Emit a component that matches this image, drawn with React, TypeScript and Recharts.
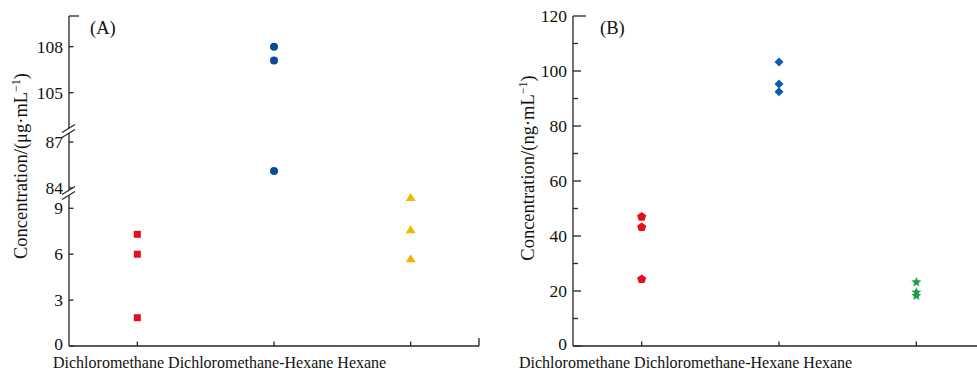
import React from "react";
import { ScatterChart, Scatter, XAxis, YAxis } from "recharts";

// categories shared by both panels
const categories = ["Dichloromethane", "Dichloromethane-Hexane", "Hexane"];

// panel A, μg/mL
const dcmA = [7.3, 6.0, 1.85];
const mixA = [108.0, 107.1, 85.1];
const hexA = [9.7, 7.6, 5.7];

// panel B, ng/mL
const dcmB = [47.0, 43.2, 24.3];
const mixB = [103.3, 95.3, 92.5];
const hexB = [23.2, 19.5, 18.3];

// tick labels
const ticksAUpper = [105, 108];
const ticksAMiddle = [84, 87];
const ticksALower = [0, 3, 6, 9];
const ticksB = [0, 10, 20, 30, 40, 50, 60, 70, 80, 90, 100, 110, 120];
const xTicks = [0, 1, 2];

const FONT = "'Liberation Serif', 'Times New Roman', serif";
const AXIS = "#262626";
const RED = "#e60f1c";
const BLUE_A = "#0c4b93";
const BLUE_B = "#0a5cb0";
const YELLOW = "#f6b400";
const GREEN = "#1a9d45";
const GAP = 6;

type Pt = { x: number; y: number };
const toPoints = (i: number, vals: number[]): Pt[] => vals.map((v) => ({ x: i, y: v }));

function Marker({ cx, cy, kind, color }: any) {
  if (cx == null || cy == null) return null;
  if (kind === "square") return <rect x={cx - 3.5} y={cy - 3.5} width={7} height={7} fill={color} />;
  if (kind === "circle") return <circle cx={cx} cy={cy} r={4} fill={color} />;
  if (kind === "triangle")
    return <polygon points={`${cx},${cy - 4.5} ${cx + 5},${cy + 3.5} ${cx - 5},${cy + 3.5}`} fill={color} />;
  if (kind === "diamond")
    return <polygon points={`${cx},${cy - 4.5} ${cx + 4.5},${cy} ${cx},${cy + 4.5} ${cx - 4.5},${cy}`} fill={color} />;
  const n = 5;
  const pts: string[] = [];
  if (kind === "pentagon") {
    for (let k = 0; k < n; k++) {
      const a = -Math.PI / 2 + (k * 2 * Math.PI) / n;
      pts.push(`${cx + 4.8 * Math.cos(a)},${cy + 4.8 * Math.sin(a)}`);
    }
  } else {
    for (let k = 0; k < n * 2; k++) {
      const a = -Math.PI / 2 + (k * Math.PI) / n;
      const r = k % 2 === 0 ? 5.2 : 2.3;
      pts.push(`${cx + r * Math.cos(a)},${cy + r * Math.sin(a)}`);
    }
  }
  return <polygon points={pts.join(" ")} fill={color} />;
}

function YTick(props: any) {
  const { x, y, payload, lenFor, labelFor } = props;
  const v = payload.value;
  const ax = x + GAP;
  const len = lenFor(v);
  const label = labelFor(v);
  return (
    <g>
      <line x1={ax} x2={ax + len} y1={y} y2={y} stroke={AXIS} strokeWidth={1.3} />
      {label ? (
        <text x={x} y={y} dy={v === 0 ? "0.2em" : "0.35em"} textAnchor="end" fontFamily={FONT} fontSize={17.5} fill="#111">
          {v}
        </text>
      ) : null}
    </g>
  );
}

function XTick(props: any) {
  const { x, y, payload, lenFor } = props;
  const len = lenFor(payload.value);
  return <line x1={x} x2={x} y1={y} y2={y - len} stroke={AXIS} strokeWidth={1.3} />;
}

type Series = { vals: number[]; color: string; kind: string };

const seriesA: Series[] = [
  { vals: dcmA, color: RED, kind: "square" },
  { vals: mixA, color: BLUE_A, kind: "circle" },
  { vals: hexA, color: YELLOW, kind: "triangle" },
];
const seriesB: Series[] = [
  { vals: dcmB, color: RED, kind: "pentagon" },
  { vals: mixB, color: BLUE_B, kind: "diamond" },
  { vals: hexB, color: GREEN, kind: "star" },
];

function Panel(props: {
  left: number;
  plotTop: number;
  plotH: number;
  width: number;
  yWidth: number;
  right: number;
  domain: [number, number];
  ticks: number[];
  series: Series[];
  showX: boolean;
  xEnd: boolean;
  yLen: (v: number) => number;
  yLabel: (v: number) => boolean;
}) {
  const { left, plotTop, plotH, width, yWidth, right, domain, ticks, series, showX, xEnd, yLen, yLabel } = props;
  const h = plotH + 20;
  return (
    <div style={{ position: "absolute", left, top: plotTop - 10, width, height: h }}>
      <ScatterChart width={width} height={h} margin={{ top: 10, right, bottom: 0, left: 0 }} style={{ overflow: "visible" }}>
        <XAxis
          type="number"
          dataKey="x"
          domain={[-0.5, 2.5]}
          allowDataOverflow
          ticks={showX ? (xEnd ? [...xTicks, 2.5] : xTicks) : []}
          interval={0}
          height={10}
          axisLine={showX ? { stroke: AXIS, strokeWidth: 1.3 } : false}
          tickLine={false}
          tickSize={0}
          tickMargin={0}
          tick={showX ? (p: any) => <XTick {...p} lenFor={(v: number) => (v === 2.5 ? 8 : 4.5)} /> : false}
        />
        <YAxis
          type="number"
          dataKey="y"
          domain={domain}
          allowDataOverflow
          ticks={ticks}
          interval={0}
          width={yWidth}
          axisLine={{ stroke: AXIS, strokeWidth: 1.3 }}
          tickLine={false}
          tickSize={0}
          tickMargin={GAP}
          tick={(p: any) => <YTick {...p} lenFor={yLen} labelFor={yLabel} />}
        />
        {series.map((s, i) => (
          <Scatter
            key={i}
            data={toPoints(i, s.vals).filter((d) => d.y >= domain[0] && d.y <= domain[1])}
            isAnimationActive={false}
            shape={(p: any) => <Marker cx={p.cx} cy={p.cy} kind={s.kind} color={s.color} />}
          />
        ))}
      </ScatterChart>
    </div>
  );
}

function BreakMark({ x, y }: { x: number; y: number }) {
  return (
    <g>
      <polygon points={`${x - 7},${y + 1.5} ${x + 6},${y - 6.5} ${x + 6},${y - 1.5} ${x - 7},${y + 6.5}`} fill="#fff" />
      <line x1={x - 7} y1={y + 1.5} x2={x + 6} y2={y - 6.5} stroke={AXIS} strokeWidth={1.2} />
      <line x1={x - 7} y1={y + 6.5} x2={x + 6} y2={y - 1.5} stroke={AXIS} strokeWidth={1.2} />
    </g>
  );
}

const textStyle: React.CSSProperties = {
  position: "absolute",
  fontFamily: FONT,
  fontSize: 16,
  color: "#111",
  whiteSpace: "nowrap",
  lineHeight: 1,
};

export default function App() {
  const aProps = { left: 0, width: 490, yWidth: 69, right: 11, series: seriesA };
  const aLen = () => 4.5;
  return (
    <div style={{ position: "absolute", left: 0, top: 0, width: 977, height: 371, overflow: "hidden", background: "#fff" }}>
      {/* panel A: broken axis built from three stacked segments */}
      <Panel {...aProps} plotTop={16} plotH={115} domain={[102.5, 110]} ticks={[...ticksAUpper, 110]} showX={false} xEnd={false}
        yLen={(v) => (v === 110 ? 10 : 4.5)} yLabel={(v) => v !== 110} />
      <Panel {...aProps} plotTop={131} plotH={62} domain={[83.67, 87.72]} ticks={ticksAMiddle} showX={false} xEnd={false}
        yLen={aLen} yLabel={() => true} />
      <Panel {...aProps} plotTop={193} plotH={153} domain={[0, 10]} ticks={ticksALower} showX xEnd
        yLen={aLen} yLabel={() => true} />

      {/* panel B */}
      <Panel left={490} width={500} yWidth={83} right={5} series={seriesB} plotTop={16} plotH={330} domain={[0, 120]} ticks={ticksB}
        showX xEnd={false} yLen={(v) => (v === 120 ? 13 : v % 20 === 0 ? 8 : 5)} yLabel={(v) => v % 20 === 0} />

      <svg width={977} height={371} style={{ position: "absolute", left: 0, top: 0, pointerEvents: "none" }}>
        <BreakMark x={69} y={131} />
        <BreakMark x={69} y={193} />
      </svg>

      <div style={{ ...textStyle, left: 90, top: 19, fontSize: 18.5 }}>(A)</div>
      <div style={{ ...textStyle, left: 600, top: 19, fontSize: 18.5 }}>(B)</div>

      <div style={{ ...textStyle, left: 20, top: 166, fontSize: 18.5, transform: "translate(-50%, -50%) rotate(-90deg)" }}>
        Concentration/(μg·mL<sup style={{ fontSize: 12 }}>−1</sup>)
      </div>
      <div style={{ ...textStyle, left: 527, top: 168, fontSize: 18.5, transform: "translate(-50%, -50%) rotate(-90deg)" }}>
        Concentration/(ng·mL<sup style={{ fontSize: 12 }}>−1</sup>)
      </div>

      <div style={{ ...textStyle, left: 53, top: 355 }}>{categories.join(" ")}</div>
      <div style={{ ...textStyle, left: 519, top: 355 }}>{categories.join(" ")}</div>
    </div>
  );
}
